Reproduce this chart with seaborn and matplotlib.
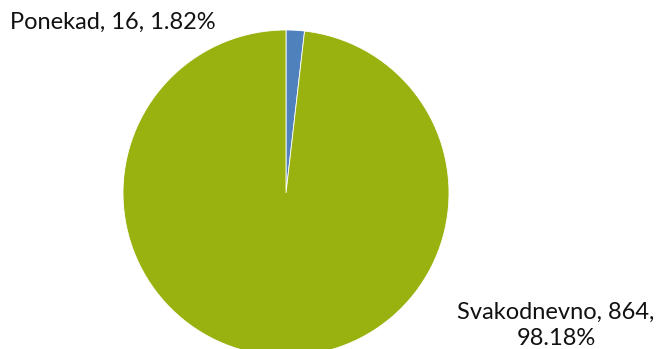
import matplotlib
matplotlib.use("Agg")
import matplotlib.pyplot as plt
import seaborn as sns

categories = ["Ponekad", "Svakodnevno"]
counts = [16, 864]
percents = [1.82, 98.18]
colors = ["#4F81BD", "#9AB20F"]

sns.set_theme(style="white")
plt.rcParams["font.family"] = ["Lato", "DejaVu Sans"]

W, H = 659, 349
fig = plt.figure(figsize=(W / 100, H / 100), dpi=100)
ax = fig.add_axes([0, 0, 1, 1])

cx, cy, r = 286, 193, 163  # centre and radius in pixels
ax.pie(counts, colors=colors, startangle=90, counterclock=False,
       radius=1.0, center=(0, 0),
       wedgeprops=dict(edgecolor="white", linewidth=0.6))
ax.set_xlim(-cx / r, (W - cx) / r)
ax.set_ylim(-(H - cy) / r, cy / r)
ax.set_aspect("auto")
ax.axis("off")

def px(x, y):
    return (x - cx) / r, (cy - y) / r

labels = [f"{c}, {n}, {p:.2f}%" for c, n, p in zip(categories, counts, percents)]
x0, y0 = px(10, 22)
ax.text(x0, y0, labels[0], ha="left", va="center", fontsize=17, color="#111111")
x1, y1 = px(556, 325)
ax.text(x1, y1, f"{categories[1]}, {counts[1]},\n{percents[1]:.2f}%",
        ha="center", va="center", fontsize=17, color="#111111", linespacing=1.3)

fig.savefig("out.png", dpi=100)
